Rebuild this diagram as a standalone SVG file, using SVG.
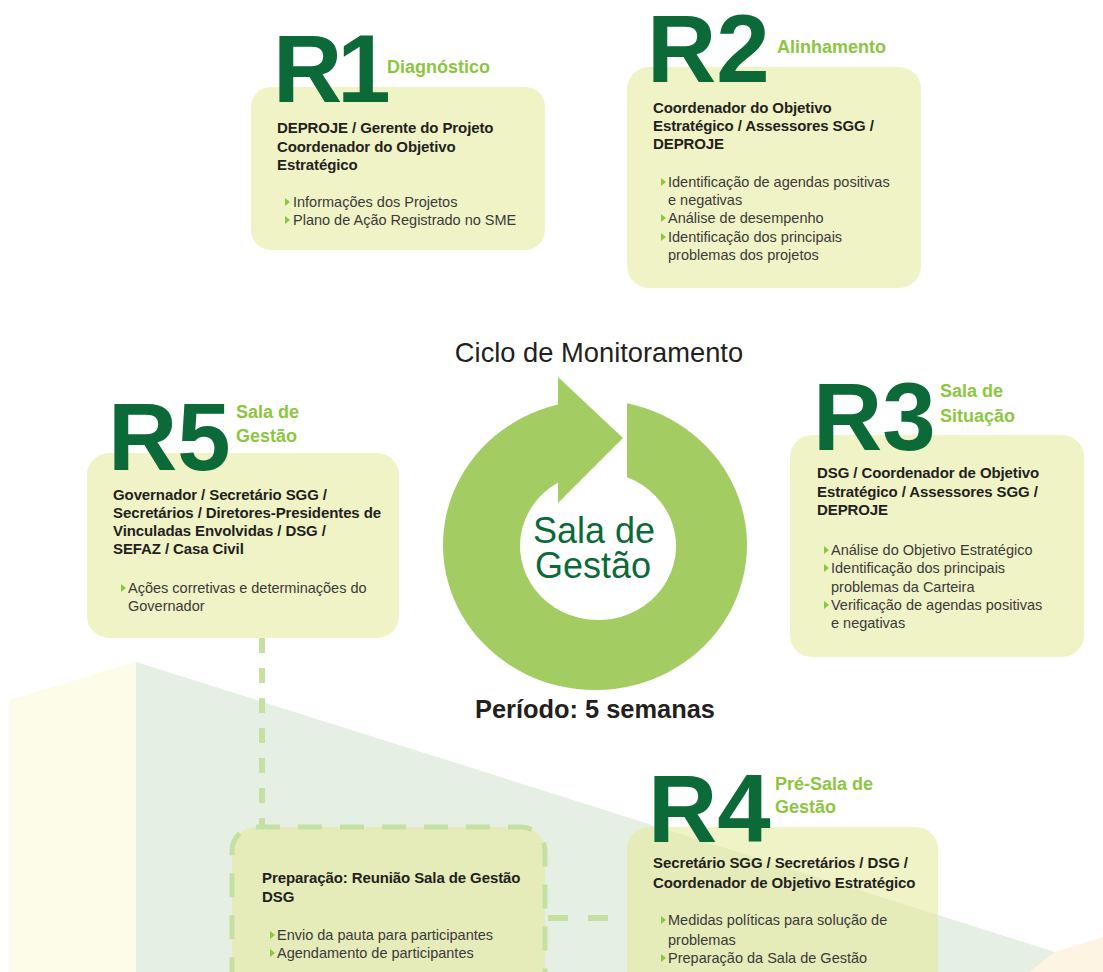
<svg xmlns="http://www.w3.org/2000/svg" width="1103" height="972" viewBox="0 0 1103 972">
  <defs>
    <style>
      .box { fill: #e3ea98; fill-opacity: 0.55; }
      .big { font-family: "Liberation Sans", Arial, sans-serif; font-weight: bold; font-size: 96px; fill: #0b6a37; }
      .sub { font-family: "Liberation Sans", Arial, sans-serif; font-weight: bold; font-size: 18px; fill: #8cc63f; }
      .head { font-family: "Liberation Sans", Arial, sans-serif; font-weight: bold; font-size: 15px; fill: #231f20; letter-spacing: -0.1px; }
      .item { font-family: "Liberation Sans", Arial, sans-serif; font-size: 14.5px; fill: #3a3a3a; }
      .tri { fill: #8cc63f; }
      .dash { fill: none; stroke: #c6e0a4; stroke-width: 6; }
      .title { font-family: "Liberation Sans", Arial, sans-serif; fill: #231f20; text-anchor: middle; }
    </style>
    <polygon id="bullet" class="tri" points="0,-9 0,-1 5,-5"/>
  </defs>

  <rect width="1103" height="972" fill="#ffffff"/>

  <!-- background planes -->
  <g id="background">
    <polygon points="9,700 136,662 136,972 9,972" fill="#fdfce8"/>
    <polygon points="136,662 1055,952 1030,972 136,972" fill="#e6efe3"/>
    <polygon points="1055,952 1103,937 1103,972 1030,972" fill="#fdf4e3"/>
  </g>

  <!-- dashed connectors -->
  <g id="connectors">
    <line class="dash" x1="262" y1="638" x2="262" y2="826" stroke-dasharray="15 15"/>
    <line class="dash" x1="548" y1="918" x2="627" y2="918" stroke-dasharray="20 20"/>
  </g>

  <!-- central cycle -->
  <g id="cycle">
    <text class="title" x="599" y="362" font-size="27.3">Ciclo de Monitoramento</text>
    <path d="M 627 403.3 A 152 145 0 1 1 558 404.4 L 558 482.5 A 78 74 0 1 0 627 477.3 Z" fill="#a3cd63"/>
    <polygon points="558,377 623,438 558,503" fill="#a3cd63"/>
    <text class="title" x="594" y="543" font-size="36" style="fill:#0b6a37">Sala de</text>
    <text class="title" x="593" y="578" font-size="36" style="fill:#0b6a37">Gestão</text>
    <text class="title" x="595" y="718" font-size="25.4" font-weight="bold">Período: 5 semanas</text>
  </g>

  <!-- R1 -->
  <g id="node-r1">
    <rect class="box" x="251" y="87" width="294" height="163" rx="20"/>
    <text class="big" x="273" y="102">R<tspan dx="-5">1</tspan></text>
    <text class="sub" x="387" y="73">Diagnóstico</text>
    <text class="head" x="277" y="133">DEPROJE / Gerente do Projeto</text>
    <text class="head" x="277" y="152">Coordenador do Objetivo</text>
    <text class="head" x="277" y="170">Estratégico</text>
    <use href="#bullet" x="285" y="207"/>
    <text class="item" x="293" y="207">Informações dos Projetos</text>
    <use href="#bullet" x="285" y="225"/>
    <text class="item" x="293" y="225">Plano de Ação Registrado no SME</text>
  </g>

  <!-- R2 -->
  <g id="node-r2">
    <rect class="box" x="627" y="67" width="294" height="221" rx="22"/>
    <text class="big" x="647" y="82">R2</text>
    <text class="sub" x="777" y="53">Alinhamento</text>
    <text class="head" x="653" y="113">Coordenador do Objetivo</text>
    <text class="head" x="653" y="131">Estratégico / Assessores SGG /</text>
    <text class="head" x="653" y="149">DEPROJE</text>
    <use href="#bullet" x="661" y="187"/>
    <text class="item" x="668" y="187">Identificação de agendas positivas</text>
    <text class="item" x="668" y="205">e negativas</text>
    <use href="#bullet" x="661" y="223"/>
    <text class="item" x="668" y="223">Análise de desempenho</text>
    <use href="#bullet" x="661" y="242"/>
    <text class="item" x="668" y="242">Identificação dos principais</text>
    <text class="item" x="668" y="260">problemas dos projetos</text>
  </g>

  <!-- R3 -->
  <g id="node-r3">
    <rect class="box" x="790" y="435" width="294" height="222" rx="22"/>
    <text class="big" x="813" y="450">R3</text>
    <text class="sub" x="940" y="397">Sala de</text>
    <text class="sub" x="940" y="422">Situação</text>
    <text class="head" x="817" y="478">DSG / Coordenador de Objetivo</text>
    <text class="head" x="817" y="497">Estratégico / Assessores SGG /</text>
    <text class="head" x="817" y="515">DEPROJE</text>
    <use href="#bullet" x="824" y="555"/>
    <text class="item" x="831" y="555">Análise do Objetivo Estratégico</text>
    <use href="#bullet" x="824" y="573"/>
    <text class="item" x="831" y="573">Identificação dos principais</text>
    <text class="item" x="831" y="592">problemas da Carteira</text>
    <use href="#bullet" x="824" y="610"/>
    <text class="item" x="831" y="610">Verificação de agendas positivas</text>
    <text class="item" x="831" y="628">e negativas</text>
  </g>

  <!-- R4 -->
  <g id="node-r4">
    <rect class="box" x="627" y="827" width="311" height="170" rx="22"/>
    <text class="big" x="648" y="842">R4</text>
    <text class="sub" x="775" y="790">Pré-Sala de</text>
    <text class="sub" x="775" y="813">Gestão</text>
    <text class="head" x="653" y="868">Secretário SGG / Secretários / DSG /</text>
    <text class="head" x="653" y="888">Coordenador de Objetivo Estratégico</text>
    <use href="#bullet" x="661" y="925"/>
    <text class="item" x="668" y="925">Medidas políticas para solução de</text>
    <text class="item" x="668" y="945">problemas</text>
    <use href="#bullet" x="661" y="963"/>
    <text class="item" x="668" y="963">Preparação da Sala de Gestão</text>
  </g>

  <!-- R5 -->
  <g id="node-r5">
    <rect class="box" x="87" y="453" width="312" height="185" rx="22"/>
    <text class="big" x="108" y="470">R5</text>
    <text class="sub" x="236" y="418">Sala de</text>
    <text class="sub" x="236" y="442">Gestão</text>
    <text class="head" x="113" y="500">Governador / Secretário SGG /</text>
    <text class="head" x="113" y="518">Secretários / Diretores-Presidentes de</text>
    <text class="head" x="113" y="536">Vinculadas Envolvidas / DSG /</text>
    <text class="head" x="113" y="554">SEFAZ / Casa Civil</text>
    <use href="#bullet" x="121" y="593"/>
    <text class="item" x="128" y="593">Ações corretivas e determinações do</text>
    <text class="item" x="128" y="611">Governador</text>
  </g>

  <!-- preparation step -->
  <g id="node-prep">
    <rect class="box" x="232" y="827" width="313" height="170" rx="24"/>
    <rect x="232" y="827" width="313" height="170" rx="24" fill="none" stroke="#c6e0a4" stroke-width="5" stroke-dasharray="24 18"/>
    <text class="head" x="262" y="883">Preparação: Reunião Sala de Gestão</text>
    <text class="head" x="262" y="902">DSG</text>
    <use href="#bullet" x="270" y="940"/>
    <text class="item" x="277" y="940">Envio da pauta para participantes</text>
    <use href="#bullet" x="270" y="958"/>
    <text class="item" x="277" y="958">Agendamento de participantes</text>
  </g>
</svg>
